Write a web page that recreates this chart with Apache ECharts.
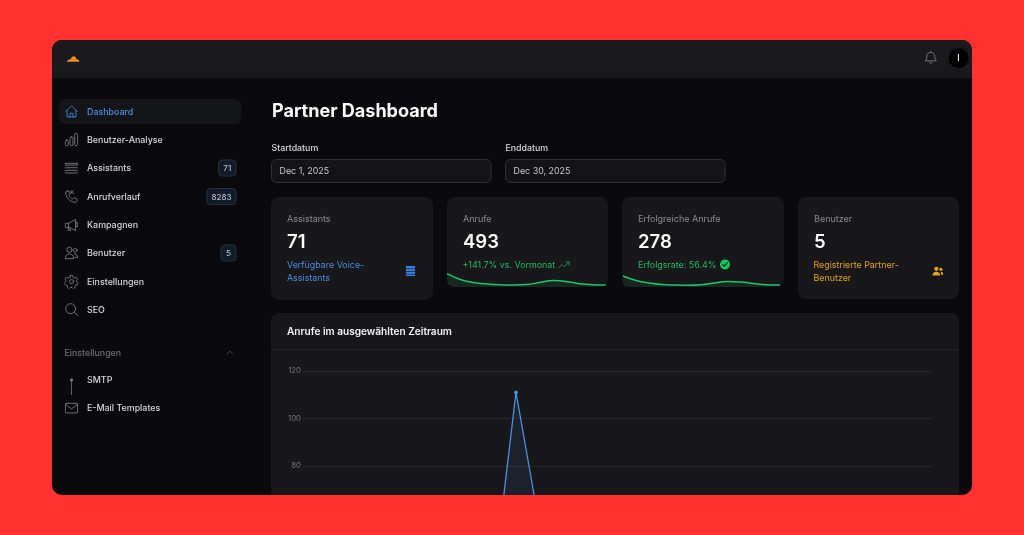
<!DOCTYPE html>
<html>
<head>
<meta charset="UTF-8">
<title>Partner Dashboard</title>
<script src="https://cdn.jsdelivr.net/npm/echarts@6/dist/echarts.min.js"></script>
<style>
html, body { margin: 0; padding: 0; background: #ff3131; }
#main { width: 1024px; height: 535px; }
</style>
</head>
<body>
<div id="main"></div>
<script>
// Daten
var navLabels = ['Dashboard', 'Benutzer-Analyse', 'Assistants', 'Anrufverlauf', 'Kampagnen', 'Benutzer', 'Einstellungen', 'SEO'];
var navBadges = ['', '', '71', '8283', '', '5', '', ''];
var subNavLabels = ['SMTP', 'E-Mail Templates'];
var kpiLabels = ['Assistants', 'Anrufe', 'Erfolgreiche Anrufe', 'Benutzer'];
var kpiValues = ['71', '493', '278', '5'];
var yTicks = [0, 20, 40, 60, 80, 100, 120];
// Anrufe pro Tag, Dez 1 - Dez 30 (nur die Spitze ist im Bild sichtbar)
var days = [1, 2, 3, 4, 5, 6, 7, 8, 9, 10, 11, 12, 13, 14, 15, 16, 17, 18, 19, 20, 21, 22, 23, 24, 25, 26, 27, 28, 29, 30];
var dailyCalls = [24, 14, 12, 9, 8, 7, 9, 11, 15, 35, 111, 60, 31, 12, 9, 8, 7, 8, 10, 14, 16, 13, 10, 8, 6, 6, 5, 4, 6, 5];
var sparkCalls = [134, 75, 45, 30, 22, 20, 24, 45, 66, 56, 32, 22, 20];
var sparkSuccess = [110, 65, 40, 25, 20, 17, 22, 40, 56, 50, 34, 22, 20];

var GRID = '#28282b', CARD = '#18181b', WIN = '#0a0a0d', RED = '#ff3131';
var BLUE = '#4a8fe0', GREEN = '#22b866', AMBER = '#e3a21a', MUTED = '#8a8a8f', LIGHT = '#d8d8da';
var FONT = 'Inter';
var BODY = 8.9;

function rect(x, y, w, h, r, fill, stroke, z) {
	return {
		type: 'rect', z: z === undefined ? -5 : z, silent: true,
		shape: { x: x, y: y, width: w, height: h, r: r },
		style: { fill: fill, stroke: stroke || null, lineWidth: stroke ? 1 : 0 }
	};
}

function text(str, x, y, size, weight, color, align) {
	return {
		type: 'text', z: 20, silent: true,
		style: {
			text: str, x: x, y: y + 0.7, fill: color,
			font: weight + ' ' + size + 'px ' + FONT,
			textAlign: align || 'left', textVerticalAlign: 'middle'
		}
	};
}

// kleine Icons als inline SVG
function icon(inner, color, x, y, w, h, filled) {
	var svg = '<svg xmlns="http://www.w3.org/2000/svg" width="96" height="96" viewBox="0 0 24 24" preserveAspectRatio="none" fill="' + (filled ? color : 'none') +
		'" stroke="' + (filled ? 'none' : color) + '" stroke-width="1.4" stroke-linecap="round" stroke-linejoin="round">' + inner + '</svg>';
	return {
		type: 'image', z: 20, silent: true,
		style: { image: 'data:image/svg+xml;charset=utf-8,' + encodeURIComponent(svg), x: x, y: y, width: w, height: h }
	};
}

var ICONS = [
	'<path d="M2 12 12 2.5 22 12M4.5 10v11.5h15V10M9.5 21.5V15h5v6.5"/>',
	'<rect x="1.5" y="13" width="5" height="9.5" rx="2.2"/><rect x="9.5" y="7.5" width="5" height="15" rx="2.2"/><rect x="17.5" y="1.5" width="5" height="21" rx="2.2"/>',
	'<path d="M2 4h20M2 4v3h20V4M2 11.5h20M2 16h20M2 20.5h20"/>',
	'<path d="M15 2l-3.5 3.5M11.5 2v4h4M5 2.5l3 .5 2 5-2.5 2c1.2 3 3.3 5.2 6.5 6.5l2-2.5 5 2 .5 3c.2 1.5-1 3-2.5 3C9.5 22 2 13.5 2 5c0-1.5 1.5-2.7 3-2.5z"/>',
	'<path d="M2 9h5l12-6.5v19L7 16H2zM7 9v7M9 16.5l1 5H7l-1-5.5M19 8h3v7h-3"/>',
	'<circle cx="8.5" cy="6.5" r="4.5"/><circle cx="18.5" cy="7.5" r="3.2"/><path d="M1.5 21c0-4.5 3-7.5 7-7.5s7 3 7 7.5zM17 13.5c3.500 0 5.500 2.500 5.500 6h-5"/>',
	'<circle cx="12" cy="12" r="3.5"/><path d="M10 2h4l.7 3 2.600 1.200 2.700-1.500 2.500 3-2 2.300.3 2.500 2.600 1.500-1 3.800-3 .2-1.700 2.200.6 3-3.600 1.400-1.800-2.500h-2.800l-1.800 2.500-3.600-1.400.6-3-1.700-2.200-3-.2-1-3.800 2.600-1.500.3-2.500-2-2.300 2.500-3 2.700 1.500L9.300 5z"/>',
	'<circle cx="10.5" cy="10.5" r="8.5"/><path d="M17 17l5.5 5.500"/>'
];

var graphics = [];

// Fenster, Kopfzeile
graphics.push(rect(52, 40, 920, 455, 10, WIN));
graphics.push({
	type: 'rect', z: -4, silent: true,
	shape: { x: 52, y: 40, width: 920, height: 38.5, r: [10, 10, 0, 0] },
	style: { fill: '#19191c' }
});
graphics.push(icon('<path d="M1 22C3 16 6 15 8 15 9 8 13 4 16 8 17 10 17 13 18 15 21 14 23 18 23 22Z"/>', '#f38a20', 66, 54, 14, 8.5, true));
graphics.push(icon('<path d="M12 2a7 7 0 0 0-7 7c0 5-1.5 7-3 8.5h20c-1.500-1.500-3-3.500-3-8.500a7 7 0 0 0-7-7zM9.500 21h5"/>', '#8a8a8f', 924, 51, 13.5, 13.5));
graphics.push({ type: 'circle', z: -3, silent: true, shape: { cx: 958.5, cy: 58, r: 10 }, style: { fill: '#000' } });
graphics.push(text('I', 958.5, 58, 8.5, 500, '#fff', 'center'));

// Seitenleiste
graphics.push(rect(59, 99, 182, 25, 6, '#141518'));
var navY = [111.5, 139.5, 168, 196.5, 225, 253, 281.5, 309.5];
navLabels.forEach(function (label, i) {
	var color = i === 0 ? BLUE : LIGHT;
	graphics.push(text(label, 87, navY[i], BODY, 500, color));
	graphics.push(icon(ICONS[i], i === 0 ? BLUE : '#85858a', 64.5, navY[i] - 7, 14, 14));
	if (navBadges[i]) {
		var w = 29;
		if (navBadges[i].length === 1) w = 15;
		if (navBadges[i].length === 2) w = 17.5;
		graphics.push(rect(236 - w, navY[i] - 8, w, 16, 3.5, '#131b27', '#22324a', -3));
		graphics.push(text(navBadges[i], 236 - w / 2, navY[i], 8, 500, '#b4bccb', 'center'));
	}
});
graphics.push(text('Einstellungen', 64.5, 352.5, 8.8, 500, '#6f6f74'));
graphics.push(icon('<path d="M5 16l7-7 7 7"/>', '#77777c', 225, 347.5, 9.5, 9.5));
var subY = [380, 408];
subNavLabels.forEach(function (label, i) {
	graphics.push(text(label, 87, subY[i], BODY, 500, LIGHT));
});
graphics.push({ type: 'circle', z: 20, silent: true, shape: { cx: 71.5, cy: 380, r: 1.6 }, style: { fill: '#85858a' } });
graphics.push({ type: 'line', z: 20, silent: true, shape: { x1: 71.5, y1: 380, x2: 71.5, y2: 395 }, style: { stroke: '#6a6a6f', lineWidth: 0.9 } });
graphics.push(icon('<rect x="1.5" y="4" width="21" height="16.5" rx="1.5"/><path d="M1.5 6l10.500 7.500L22.500 6"/>', '#85858a', 64.5, 401, 14, 14));

// Kopf und Datumsfelder
graphics.push(text('Partner Dashboard', 272, 110.5, 18.05, 700, '#fff'));
graphics.push(text('Startdatum', 271.5, 148, 8.8, 500, LIGHT));
graphics.push(text('Enddatum', 505.5, 148, 8.8, 500, LIGHT));
graphics.push(rect(271.5, 159.5, 219.5, 23, 5, '#141416', '#323235'));
graphics.push(rect(505.5, 159.5, 219.5, 23, 5, '#141416', '#323235'));
graphics.push(text('Dec 1, 2025', 279.5, 171, 8.9, 400, '#c9c9cc'));
graphics.push(text('Dec 30, 2025', 513.5, 171, 8.9, 400, '#c9c9cc'));

// KPI Karten
var cardX = [271, 447, 622, 798];
var cardW = [162, 161, 162, 161];
var cardB = [300, 287, 287, 299];
kpiLabels.forEach(function (label, i) {
	graphics.push(rect(cardX[i], 197, cardW[i], cardB[i] - 197, 8, CARD));
	graphics.push(text(label, cardX[i] + 16, 219, 9, 400, MUTED));
	graphics.push(text(kpiValues[i], cardX[i] + 16, 242, 18.5, 600, '#fff'));
});
graphics.push(text('Verfügbare Voice-', 287, 265, BODY, 400, BLUE));
graphics.push(text('Assistants', 287, 277.5, BODY, 400, BLUE));
graphics.push(text('+141.7% vs. Vormonat', 462.5, 265, BODY, 400, GREEN));
graphics.push(text('Erfolgsrate: 56.4%', 638, 265, BODY, 400, GREEN));
graphics.push(text('Registrierte Partner-', 813.5, 265, BODY, 400, AMBER));
graphics.push(text('Benutzer', 813.5, 277.5, BODY, 400, AMBER));
graphics.push(icon('<rect x="2" y="1" width="20" height="5.5" rx="1.5"/><rect x="2" y="8" width="20" height="4.5" /><rect x="2" y="14" width="20" height="4" /><rect x="2" y="19.5" width="20" height="3.5" rx="1"/>', '#3b82e6', 405, 265.5, 11, 11, true));
graphics.push(icon('<path d="M1 18l7-7 4.500 4.500L22 6M15.500 6H22v6.500"/>', GREEN, 558, 259, 12, 12));
graphics.push({ type: 'circle', z: 20, silent: true, shape: { cx: 725, cy: 264.5, r: 5 }, style: { fill: '#16c45c' } });
graphics.push(icon('<path d="M6 12.5l4 4 8-9" stroke-width="3.5"/>', '#0c2a18', 720.5, 260, 9, 9));
graphics.push(icon('<circle cx="9" cy="7" r="4.5"/><circle cx="18.5" cy="8" r="3.5"/><path d="M1 21c0-5 3-8 8-8s8 3 8 8zM18.500 13c3 0 5 2.500 5 6.500h-5z"/>', AMBER, 932, 265.5, 11.5, 11.5, true));

// Ecken der Karten mit Sparkline abrunden
[[447, 608], [622, 784]].forEach(function (c) {
	graphics.push({
		type: 'polygon', z: 15, silent: true,
		shape: { points: [[c[0], 281], [c[0] + 1, 284], [c[0] + 3, 286], [c[0] + 6, 287], [c[0], 287]] },
		style: { fill: WIN }
	});
	graphics.push({
		type: 'polygon', z: 15, silent: true,
		shape: { points: [[c[1], 281], [c[1] - 1, 284], [c[1] - 3, 286], [c[1] - 6, 287], [c[1], 287]] },
		style: { fill: WIN }
	});
});

// Diagrammkarte
graphics.push(rect(271, 313, 688, 230, 8, CARD));
graphics.push(text('Anrufe im ausgewählten Zeitraum', 287, 331.5, 10.1, 600, '#f2f2f3'));
graphics.push({ type: 'line', z: -4, silent: true, shape: { x1: 271, y1: 349.5, x2: 959, y2: 349.5 }, style: { stroke: '#252528', lineWidth: 1 } });

// unterer Rand des Fensters schneidet das Diagramm ab
graphics.push(rect(0, 495, 1024, 40, 0, RED, null, 50));

function sparkSeries(index, values) {
	return {
		type: 'line', xAxisIndex: index, yAxisIndex: index, smooth: 0.4, symbol: 'none',
		data: values.map(function (v, i) { return [i, v]; }),
		lineStyle: { color: '#1fc46c', width: 1.5 },
		areaStyle: { color: 'rgba(34,192,112,0.13)' }
	};
}

var myChart = echarts.init(document.getElementById('main'));
myChart.setOption({
	backgroundColor: RED,
	animation: false,
	grid: [
		{ left: 302, width: 630, top: 371, height: 285, outerBoundsMode: 'none' },
		{ left: 447, width: 159, top: 270, height: 17, outerBoundsMode: 'none' },
		{ left: 623, width: 157, top: 270, height: 17, outerBoundsMode: 'none' }
	],
	xAxis: [
		{ type: 'value', gridIndex: 0, min: 1, max: 30.44, show: false },
		{ type: 'value', gridIndex: 1, min: 0, max: sparkCalls.length - 1, show: false },
		{ type: 'value', gridIndex: 2, min: 0, max: sparkSuccess.length - 1, show: false }
	],
	yAxis: [
		{
			type: 'value', gridIndex: 0, min: yTicks[0], max: yTicks[yTicks.length - 1], interval: 20,
			axisLine: { show: false }, axisTick: { show: false },
			axisLabel: { color: '#74747a', fontSize: 7.8, fontFamily: FONT, margin: 1 },
			splitLine: { lineStyle: { color: GRID, width: 1 } }
		},
		{ type: 'value', gridIndex: 1, min: 0, max: 170, show: false },
		{ type: 'value', gridIndex: 2, min: 0, max: 170, show: false }
	],
	series: [
		{
			type: 'line', xAxisIndex: 0, yAxisIndex: 0, symbol: 'circle', symbolSize: 4,
			data: days.map(function (d, i) { return [d, dailyCalls[i]]; }),
			itemStyle: { color: BLUE },
			lineStyle: { color: BLUE, width: 1.3 },
			areaStyle: { color: 'rgba(74,143,224,0.13)' }
		},
		sparkSeries(1, sparkCalls),
		sparkSeries(2, sparkSuccess)
	],
	graphic: { elements: graphics }
});
</script>
</body>
</html>
